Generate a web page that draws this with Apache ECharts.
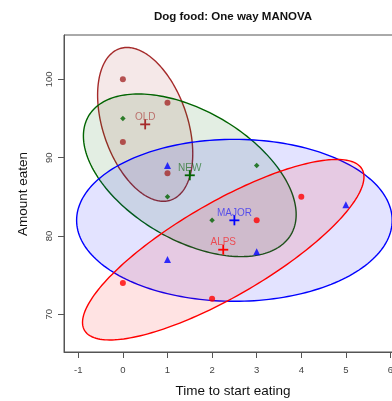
<!DOCTYPE html>
<html>
<head>
<meta charset="utf-8">
<script src="https://cdn.jsdelivr.net/npm/echarts@6/dist/echarts.min.js"></script>
<style>
html,body{margin:0;padding:0;background:#fff;}
#chart{width:392px;height:401px;}
</style>
</head>
<body>
<div id="chart"></div>
<script>
// ---- data ----
const categories = ['OLD', 'NEW', 'MAJOR', 'ALPS'];
const oldX = [0, 1, 0, 1];
const oldY = [100, 97, 92, 88];
const newX = [0, 1, 2, 3];
const newY = [95, 85, 82, 89];
const majorX = [1, 1, 5, 3];
const majorY = [89, 77, 84, 78];
const alpsX = [0, 2, 3, 4];
const alpsY = [74, 72, 82, 85];
const xTicks = [-1, 0, 1, 2, 3, 4, 5, 6];
const yTicks = [70, 80, 90, 100];
const ellipseLevel = 0.68;

// ---- styling ----
const colors = ['#A52A2A', '#006400', '#0000FF', '#FF0000'];
const rgba = (hex, a) => {
  const n = parseInt(hex.slice(1), 16);
  return 'rgba(' + (n >> 16 & 255) + ',' + (n >> 8 & 255) + ',' + (n & 255) + ',' + a + ')';
};
const symbols = ['circle', 'diamond', 'triangle', 'circle'];
const symbolSizes = [6, 5.5, 7, 6];

const groupsX = [oldX, newX, majorX, alpsX];
const groupsY = [oldY, newY, majorY, alpsY];

function stats(xs, ys) {
  const n = xs.length;
  const mx = xs.reduce((a, b) => a + b, 0) / n;
  const my = ys.reduce((a, b) => a + b, 0) / n;
  let sxx = 0, syy = 0, sxy = 0;
  for (let i = 0; i < n; i++) {
    sxx += (xs[i] - mx) ** 2;
    syy += (ys[i] - my) ** 2;
    sxy += (xs[i] - mx) * (ys[i] - my);
  }
  return { n, mx, my, sxx: sxx / (n - 1), syy: syy / (n - 1), sxy: sxy / (n - 1) };
}
const groupStats = groupsX.map((xs, i) => stats(xs, groupsY[i]));

function radius(n) {
  // sqrt(2 * qf(level, 2, n-1))
  const d2 = n - 1;
  const q = d2 / 2 * (Math.pow(1 - ellipseLevel, -2 / d2) - 1);
  return Math.sqrt(2 * q);
}

const chart = echarts.init(document.getElementById('chart'), null, { renderer: 'canvas' });

const scatterSeries = categories.map((name, i) => ({
  type: 'scatter',
  name: name,
  data: groupsX[i].map((x, j) => [x, groupsY[i][j]]),
  symbol: symbols[i],
  symbolSize: symbolSizes[i],
  itemStyle: { color: colors[i] },
  z: 5,
  silent: true
}));

const option = {
  animation: false,
  backgroundColor: '#fff',
  grid: { left: 64, top: 35, width: 339, height: 317, outerBoundsMode: 'none', containLabel: false, show: true, borderColor: '#555', borderWidth: 1, backgroundColor: 'transparent' },
  xAxis: {
    type: 'value', min: -1.32, max: 6.28,
    splitLine: { show: false },
    axisLine: { show: true, onZero: false, lineStyle: { color: '#555' } },
    axisTick: { show: true, customValues: xTicks, length: 6, lineStyle: { color: '#555' } },
    axisLabel: { customValues: xTicks, margin: 13, fontSize: 9.5, color: '#444', fontFamily: 'Liberation Sans' }
  },
  yAxis: {
    type: 'value', min: 65.19, max: 105.66,
    splitLine: { show: false },
    axisLine: { show: true, onZero: false, lineStyle: { color: '#555' } },
    axisTick: { show: true, customValues: yTicks, length: 6, lineStyle: { color: '#555' } },
    axisLabel: { customValues: yTicks, rotate: 90, margin: 10, fontSize: 9.5, color: '#444', fontFamily: 'Liberation Sans' }
  },
  graphic: [
    { type: 'text', x: 233, y: 17, style: { text: 'Dog food: One way MANOVA', font: 'bold 11.5px "Liberation Sans"', fill: '#111', textAlign: 'center', textVerticalAlign: 'middle' } },
    { type: 'text', x: 233, y: 391, style: { text: 'Time to start eating', font: '13.5px "Liberation Sans"', fill: '#111', textAlign: 'center', textVerticalAlign: 'middle' } },
    { type: 'text', x: 23, y: 194, rotation: Math.PI / 2, style: { text: 'Amount eaten', font: '13.5px "Liberation Sans"', fill: '#111', textAlign: 'center', textVerticalAlign: 'middle' } }
  ],
  series: [
    {
      type: 'custom',
      data: categories.map((c, i) => [groupStats[i].mx, groupStats[i].my, i]),
      z: 2,
      silent: true,
      renderItem: function (params, api) {
        const i = params.dataIndex;
        const s = groupStats[i];
        const c = radius(s.n);
        const l11 = Math.sqrt(s.sxx);
        const l21 = s.sxy / l11;
        const l22 = Math.sqrt(Math.max(s.syy - l21 * l21, 0));
        const pts = [];
        for (let k = 0; k < 200; k++) {
          const t = 2 * Math.PI * k / 200;
          const u = Math.cos(t), v = Math.sin(t);
          const x = s.mx + c * l11 * u;
          const y = s.my + c * (l21 * u + l22 * v);
          pts.push(api.coord([x, y]));
        }
        return {
          type: 'polygon',
          shape: { points: pts },
          style: { fill: rgba(colors[i], 0.11), stroke: colors[i], lineWidth: 1.4 }
        };
      }
    },
    ...scatterSeries,
    {
      type: 'custom',
      data: categories.map((c, i) => [groupStats[i].mx, groupStats[i].my, i]),
      z: 6,
      silent: true,
      renderItem: function (params, api) {
        const i = params.dataIndex;
        const p = api.coord([api.value(0), api.value(1)]);
        const h = 5;
        return {
          type: 'group',
          children: [
            { type: 'line', shape: { x1: p[0] - h, y1: p[1], x2: p[0] + h, y2: p[1] }, style: { stroke: colors[i], lineWidth: 1.8 } },
            { type: 'line', shape: { x1: p[0], y1: p[1] - h, x2: p[0], y2: p[1] + h }, style: { stroke: colors[i], lineWidth: 1.8 } },
            { type: 'text', x: p[0], y: p[1] - 7.5, style: { text: categories[i], font: '10px "Liberation Sans"', fill: rgba(colors[i], 0.6), textAlign: 'center', textVerticalAlign: 'middle' } }
          ]
        };
      }
    }
  ]
};
chart.setOption(option);
</script>
</body>
</html>
